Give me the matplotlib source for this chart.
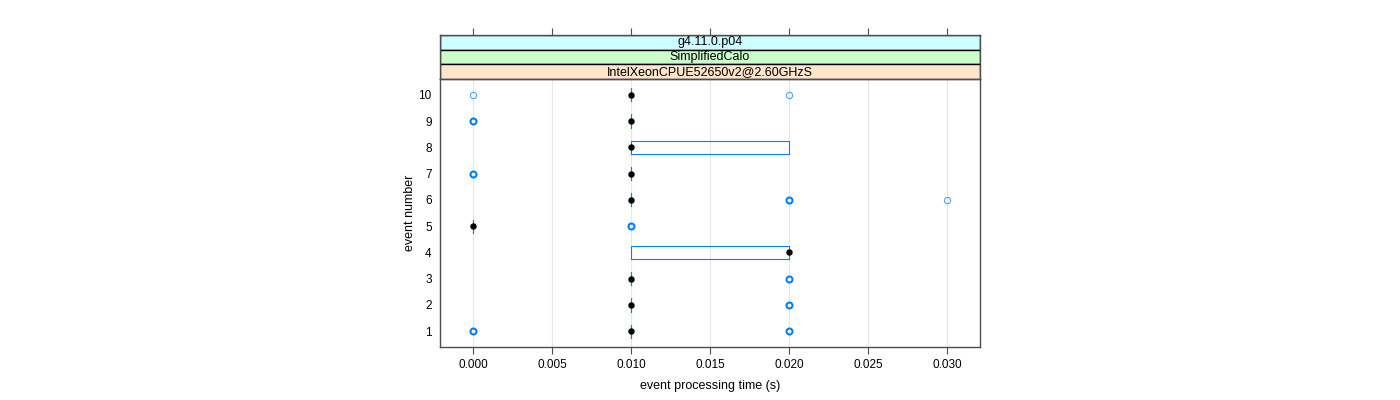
import matplotlib
matplotlib.use("Agg")
import matplotlib.pyplot as plt
from matplotlib.patches import Rectangle

plt.rcParams['font.family'] = ['Liberation Sans', 'DejaVu Sans']

# per-event summary (seconds)
events = [1, 2, 3, 4, 5, 6, 7, 8, 9, 10]
q1 = [0.01, 0.01, 0.01, 0.01, 0.0, 0.01, 0.01, 0.01, 0.01, 0.01]
q3 = [0.01, 0.01, 0.01, 0.02, 0.0, 0.01, 0.01, 0.02, 0.01, 0.01]
medians = [0.01, 0.01, 0.01, 0.02, 0.0, 0.01, 0.01, 0.01, 0.01, 0.01]
# outliers: (event, value, how many overlap)
out_event = [1, 1, 2, 3, 5, 6, 6, 7, 9, 10, 10]
out_value = [0.0, 0.02, 0.02, 0.02, 0.01, 0.02, 0.03, 0.0, 0.0, 0.0, 0.02]
out_count = [3, 2, 3, 3, 3, 3, 1, 3, 3, 1, 1]

strips = ["g4.11.0.p04", "SimplifiedCalo", "IntelXeonCPUE52650v2@2.60GHzS"]
strip_cols = ["#ccffff", "#ccffcc", "#ffe5cc"]
xticks = [0.0, 0.005, 0.01, 0.015, 0.02, 0.025, 0.03]

blue = "#0080ff"
border = "#4d4d4d"

fig = plt.figure(figsize=(14, 4), dpi=100)
W, H = 1400.0, 400.0
L, R, T, B = 440, 980, 79, 347
ax = fig.add_axes([L / W, 1 - B / H, (R - L) / W, (B - T) / H])
sax = fig.add_axes([L / W, 1 - T / H, (R - L) / W, (T - 35) / H], sharex=ax)

xlo, xhi = -0.0021, 0.0321
ax.set_xlim(xlo, xhi)
ax.set_ylim(0.4, 10.6)

for x in xticks:
    ax.axvline(x, color="#e6e6e6", lw=0.8, zorder=0)

stats = []
for i in range(len(events)):
    stats.append(dict(med=medians[i], q1=q1[i], q3=q3[i],
                      whislo=q1[i], whishi=q3[i], fliers=[]))
ax.bxp(stats, positions=events, widths=0.5, orientation='horizontal',
       showcaps=False, showfliers=False, patch_artist=False,
       boxprops=dict(color=blue, lw=0.8),
       whiskerprops=dict(color=blue, lw=0.8),
       medianprops=dict(linestyle='none'), manage_ticks=False)

ax.plot(medians, events, 'o', color='black', ms=3.6, zorder=4)
for e, v, c in zip(out_event, out_value, out_count):
    if c > 1:
        ax.plot(v, e, 'o', mfc='none', mec=blue, mew=1.5, ms=4.3, zorder=3)
    else:
        ax.plot(v, e, 'o', mfc='none', mec=blue, mew=0.8, ms=4.5, alpha=0.7, zorder=3)

ax.set_yticks(events)
ax.set_yticklabels([str(e) for e in events])
ax.set_xticks(xticks)
ax.set_xticklabels(["%.3f" % x for x in xticks])
ax.tick_params(axis='y', length=0, pad=6, labelsize=8.5)
ax.tick_params(axis='x', direction='out', length=5, color=border, labelsize=8.5, pad=4)
for s in ax.spines.values():
    s.set_color(border)
    s.set_linewidth(1.0)
ax.set_xlabel("event processing time (s)", fontsize=9, labelpad=6)
ax.set_ylabel("event number", fontsize=9, labelpad=2)

# strips
sax.set_ylim(0, 3)
sax.set_yticks([])
for i, (txt, col) in enumerate(zip(strips, strip_cols)):
    y = 2 - i
    sax.add_patch(Rectangle((xlo, y), xhi - xlo, 1, facecolor=col,
                            edgecolor='black', lw=1.0))
    sax.text((xlo + xhi) / 2, y + 0.5, txt, ha='center', va='center', fontsize=9)
sax.tick_params(axis='x', top=True, bottom=False, labeltop=False, labelbottom=False,
                direction='out', length=5, color=border)
for s in sax.spines.values():
    s.set_color(border)
    s.set_linewidth(1.0)

fig.savefig("out.png", dpi=100)
